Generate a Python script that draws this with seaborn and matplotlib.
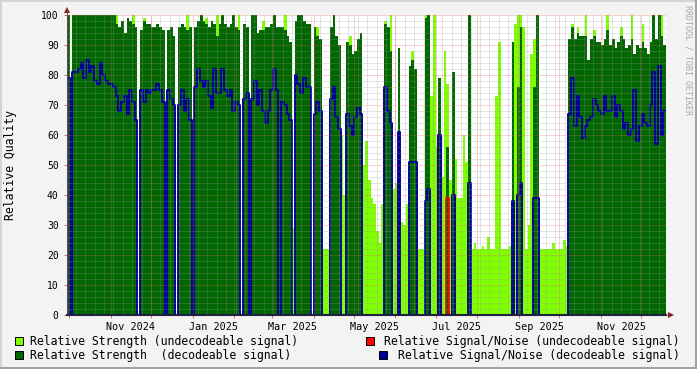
import datetime as dt
import numpy as np
import pandas as pd
import matplotlib
matplotlib.use("Agg")
import matplotlib.pyplot as plt
from matplotlib.lines import Line2D
from matplotlib.patches import Rectangle, Polygon
import seaborn as sns

# ---------------- data (one value per ~2-day bucket) -------------
strength_undecodeable = [
    100, 0, 100, 100, 100, 100, 100, 100, 100, 100,
    100, 100, 100, 100, 100, 100, 100, 100, 100, 96,
    98, 94, 99, 98, 100, 96, 0, 95, 99, 97,
    97, 96, 96, 97, 96, 95, 0, 95, 96, 93,
    0, 96, 97, 96, 100, 96, 23, 96, 98, 100,
    98, 99, 96, 98, 97, 100, 97, 100, 97, 96,
    97, 100, 96, 100, 0, 97, 96, 22, 100, 100,
    94, 95, 98, 96, 96, 97, 100, 96, 96, 96,
    100, 93, 91, 29, 98, 100, 100, 98, 97, 97,
    0, 96, 96, 92, 22, 22, 22, 96, 100, 93,
    90, 60, 40, 91, 93, 87, 88, 92, 94, 50,
    58, 45, 39, 37, 28, 24, 37, 98, 96, 100,
    42, 44, 89, 31, 30, 37, 83, 88, 82, 22,
    22, 22, 100, 100, 73, 100, 56, 79, 46, 88,
    77, 45, 81, 52, 39, 39, 60, 51, 100, 22,
    24, 22, 22, 23, 22, 26, 22, 22, 73, 91,
    22, 22, 22, 23, 91, 97, 100, 100, 96, 22,
    30, 87, 92, 100, 22, 22, 22, 22, 22, 24,
    22, 22, 22, 25, 23, 92, 97, 92, 96, 93,
    93, 100, 85, 92, 95, 91, 91, 90, 92, 100,
    90, 92, 89, 91, 96, 92, 89, 90, 100, 87,
    90, 89, 97, 89, 87, 91, 100, 92, 100, 100,
    90,
]
strength_decodeable = [
    100, 0, 100, 100, 100, 100, 100, 100, 100, 100,
    100, 100, 100, 100, 100, 100, 100, 100, 97, 96,
    98, 94, 99, 98, 97, 96, 0, 95, 98, 97,
    97, 96, 96, 97, 96, 95, 0, 95, 96, 93,
    0, 96, 97, 96, 95, 96, 0, 96, 98, 100,
    98, 97, 96, 98, 97, 93, 97, 100, 97, 96,
    97, 100, 96, 95, 0, 97, 96, 0, 100, 100,
    94, 95, 95, 96, 96, 97, 100, 96, 96, 96,
    95, 93, 91, 0, 98, 100, 100, 98, 97, 97,
    0, 96, 93, 92, 0, 0, 0, 96, 100, 93,
    90, 0, 0, 91, 90, 87, 88, 92, 94, 0,
    0, 0, 0, 0, 0, 0, 0, 97, 96, 88,
    0, 0, 89, 0, 0, 0, 83, 85, 82, 0,
    0, 0, 99, 100, 0, 0, 0, 79, 0, 0,
    56, 0, 81, 0, 0, 0, 0, 0, 100, 0,
    0, 0, 0, 0, 0, 0, 0, 0, 0, 0,
    0, 0, 0, 0, 91, 0, 76, 96, 0, 0,
    0, 0, 76, 100, 0, 0, 0, 0, 0, 0,
    0, 0, 0, 0, 0, 92, 96, 92, 94, 93,
    93, 93, 85, 92, 93, 91, 91, 90, 92, 95,
    90, 92, 89, 91, 93, 92, 89, 90, 92, 87,
    90, 89, 91, 89, 87, 91, 100, 92, 100, 93,
    90,
]
snr_decodeable = [
    79, 0, 81, 81, 82, 84, 79, 85, 81, 83,
    78, 77, 84, 80, 78, 77, 77, 76, 73, 68,
    71, 73, 67, 75, 71, 65, 0, 75, 71, 75,
    74, 75, 75, 77, 75, 71, 0, 75, 72, 70,
    0, 70, 75, 68, 72, 65, 0, 76, 82, 78,
    76, 78, 73, 69, 82, 74, 74, 82, 75, 73,
    75, 68, 71, 70, 0, 72, 74, 0, 72, 78,
    70, 75, 68, 64, 68, 75, 82, 75, 0, 71,
    70, 67, 65, 0, 80, 77, 74, 79, 76, 76,
    0, 67, 71, 68, 0, 0, 0, 72, 76, 66,
    62, 0, 0, 67, 63, 60, 66, 69, 67, 0,
    0, 0, 0, 0, 0, 0, 0, 76, 68, 64,
    0, 0, 61, 0, 0, 0, 51, 51, 51, 0,
    0, 0, 38, 42, 0, 0, 0, 60, 0, 0,
    0, 0, 40, 0, 0, 0, 0, 0, 44, 0,
    0, 0, 0, 0, 0, 0, 0, 0, 0, 0,
    0, 0, 0, 0, 38, 0, 40, 44, 0, 0,
    0, 0, 39, 39, 0, 0, 0, 0, 0, 0,
    0, 0, 0, 0, 0, 67, 79, 63, 73, 66,
    59, 63, 65, 66, 72, 70, 68, 67, 73, 68,
    68, 73, 66, 70, 68, 62, 64, 60, 62, 75,
    58, 63, 67, 64, 63, 70, 81, 57, 83, 60,
    68,
]
snr_undecodeable = [
    0, 0, 0, 0, 0, 0, 0, 0, 0, 0,
    0, 0, 0, 0, 0, 0, 0, 0, 0, 0,
    0, 0, 0, 0, 0, 0, 0, 0, 0, 0,
    0, 0, 0, 0, 0, 0, 0, 0, 0, 0,
    0, 0, 0, 0, 0, 0, 0, 0, 0, 0,
    0, 0, 0, 0, 0, 0, 0, 0, 0, 0,
    0, 0, 0, 0, 0, 0, 0, 0, 0, 0,
    0, 0, 0, 0, 0, 0, 0, 0, 0, 0,
    0, 0, 0, 0, 0, 0, 0, 0, 0, 0,
    0, 0, 0, 0, 0, 0, 0, 0, 0, 0,
    0, 0, 0, 0, 0, 0, 0, 0, 0, 0,
    0, 0, 0, 0, 0, 0, 0, 0, 0, 0,
    0, 0, 0, 0, 0, 0, 0, 0, 0, 0,
    0, 0, 0, 0, 0, 0, 0, 0, 0, 0,
    39, 0, 0, 0, 0, 0, 0, 0, 0, 0,
    0, 0, 0, 0, 0, 0, 0, 0, 0, 0,
    0, 0, 0, 0, 0, 0, 0, 0, 0, 0,
    0, 0, 0, 0, 0, 0, 0, 0, 0, 0,
    0, 0, 0, 0, 0, 0, 0, 0, 0, 0,
    0, 0, 0, 0, 0, 0, 0, 0, 0, 0,
    0, 0, 0, 0, 0, 0, 0, 0, 0, 0,
    0, 0, 0, 0, 0, 0, 0, 0, 0, 0,
    0,
]
x_tick_labels = ["Nov 2024", "Jan 2025", "Mar 2025", "May 2025",
                 "Jul 2025", "Sep 2025", "Nov 2025"]
x_tick_months = [(2024, 11), (2025, 1), (2025, 3), (2025, 5),
                 (2025, 7), (2025, 9), (2025, 11)]
y_ticks = [0, 10, 20, 30, 40, 50, 60, 70, 80, 90, 100]
legend_labels = ["Relative Strength (undecodeable signal)",
                 "Relative Strength  (decodeable signal)",
                 "Relative Signal/Noise (undecodeable signal)",
                 "Relative Signal/Noise (decodeable signal)"]

# ---------------- styling ----------------
C_LIGHT = "#80FF00"
C_DARK = "#006600"
C_RED = "#FF0000"
C_BLUE = "#000099"
C_ARROW = "#8E1B1B"
MONO = "DejaVu Sans Mono"

START = dt.datetime(2024, 9, 29, 12)
SPAN_DAYS = 445.9
n = len(strength_decodeable)
assert n == len(strength_undecodeable) == len(snr_decodeable) == len(snr_undecodeable)
step = SPAN_DAYS / n


def day(y, m, d=1):
    return (dt.datetime(y, m, d) - START).total_seconds() / 86400.0


W, H = 697, 369
fig = plt.figure(figsize=(W / 100, H / 100), dpi=100, facecolor="#F3F3F3")
ax = fig.add_axes([67 / W, 54 / H, 599 / W, 300 / H])
ax.set_facecolor("white")


def ext(v):
    a = np.asarray(v, dtype=float)
    return np.append(a, a[-1])


x_edges = np.arange(n + 1) * step
ax.fill_between(x_edges, 0, ext(strength_undecodeable), step="post",
                color=C_LIGHT, lw=0, antialiased=False, zorder=1)
ax.fill_between(x_edges, 0, ext(strength_decodeable), step="post",
                color=C_DARK, lw=0, antialiased=False, zorder=2)

df = pd.DataFrame({"x": x_edges,
                   "undec": ext(snr_undecodeable),
                   "dec": ext(snr_decodeable)})
n_before = len(ax.lines)
sns.lineplot(data=df, x="x", y="undec", ax=ax, color=C_RED, lw=1.3,
             drawstyle="steps-post", estimator=None, sort=False)
for ln in ax.lines[n_before:]:
    ln.set_zorder(3)
n_before = len(ax.lines)
sns.lineplot(data=df, x="x", y="dec", ax=ax, color=C_BLUE, lw=1.4,
             drawstyle="steps-post", estimator=None, sort=False)
for ln in ax.lines[n_before:]:
    ln.set_zorder(4)

# grid (drawn over the data, as rrdtool does)
gkw = dict(lw=0.72, linestyle=(0, (1, 1)), zorder=5)
for v in range(2, 100, 2):
    if v % 10:
        ax.axhline(v, color="#9A9A9A", alpha=0.5, **gkw)
for v in range(10, 101, 10):
    ax.axhline(v, color="#E06060", alpha=0.55, **gkw)
wk = day(2024, 9, 29)
while wk < SPAN_DAYS:
    if wk > 0:
        ax.axvline(wk, color="#9A9A9A", alpha=0.5, **gkw)
    wk += 7
month_pos = []
y, m = 2024, 10
while True:
    p = day(y, m)
    if p > SPAN_DAYS:
        break
    month_pos.append(p)
    m += 1
    if m == 13:
        y, m = y + 1, 1
for p in month_pos:
    ax.axvline(p, color="#E06060", alpha=0.55, **gkw)

ax.set_xlim(0, SPAN_DAYS)
ax.set_ylim(0, 100)
ax.set_xlabel("")
ax.set_ylabel("")

ax.set_yticks(y_ticks)
ax.set_yticklabels([str(v) for v in y_ticks], fontfamily=MONO, fontsize=7)
ax.tick_params(axis="y", length=2, width=0.7, color="#D07070", pad=4)

label_pos = []
for (yy, mm) in x_tick_months:
    a = day(yy, mm)
    b = day(yy + (mm == 12), mm % 12 + 1)
    label_pos.append((a + b) / 2)
ax.set_xticks(month_pos)
ax.set_xticklabels([""] * len(month_pos))
ax.tick_params(axis="x", which="major", length=2.5, width=0.7, color="#D07070")
ax.set_xticks(label_pos, minor=True)
ax.set_xticklabels(x_tick_labels, minor=True, fontfamily=MONO, fontsize=7.3)
ax.tick_params(axis="x", which="minor", length=0, pad=5)

for s in ("top", "right"):
    ax.spines[s].set_visible(False)
ax.spines["left"].set_color("#505050")
ax.spines["left"].set_linewidth(0.72)
ax.spines["bottom"].set_color("#202040")
ax.spines["bottom"].set_linewidth(1.5)
for s in ("left", "bottom"):
    ax.spines[s].set_zorder(6)


def px(x, y):
    return (x / W, 1 - y / H)


# arrows of the axes
fig.add_artist(Line2D([67 / W, 67 / W], [1 - 15 / H, 1 - 10 / H],
                      transform=fig.transFigure, color="#505050", lw=0.72))
fig.add_artist(Line2D([666 / W, 669 / W], [1 - 315 / H, 1 - 315 / H],
                      transform=fig.transFigure, color="#505050", lw=0.72))
fig.add_artist(Polygon([px(64, 13), px(70, 13), px(67, 7)], closed=True,
                       transform=fig.transFigure, color=C_ARROW, lw=0))
fig.add_artist(Polygon([px(668, 312), px(668, 318), px(674, 315)], closed=True,
                       transform=fig.transFigure, color=C_ARROW, lw=0))

# axis title and watermark
fig.text(*px(11, 165), "Relative Quality", rotation=90, ha="center", va="center",
         fontfamily=MONO, fontsize=8.3, color="black")
fig.text(*px(688, 5), "RRDTOOL / TOBI OETIKER", rotation=270, ha="center", va="top",
         fontfamily=MONO, fontsize=6, color="#A8A8A8")

# legend
legend_items = [
    (15, 341, C_LIGHT, legend_labels[0], 30, "left"),
    (15, 355, C_DARK, legend_labels[1], 30, "left"),
    (366, 341, C_RED, legend_labels[2], 680, "right"),
    (379, 355, C_BLUE, legend_labels[3], 680, "right"),
]
for sx, sy, col, lab, tx, ha in legend_items:
    x0, y0 = px(sx, sy + 4)
    fig.add_artist(Rectangle((x0, y0), 8 / W, 8 / H, transform=fig.transFigure,
                             facecolor=col, edgecolor="black", lw=0.7))
    fig.text(*px(tx, sy), lab, ha=ha, va="center", fontfamily=MONO,
             fontsize=8.3, color="black")

# 3-D style frame of the image
fig.add_artist(Line2D([0, 1], [1 - 0.5 / H, 1 - 0.5 / H], transform=fig.transFigure,
                      color="#D4D4D4", lw=1.4))
fig.add_artist(Line2D([0.5 / W, 0.5 / W], [0, 1], transform=fig.transFigure,
                      color="#D4D4D4", lw=1.4))
fig.add_artist(Line2D([0, 1], [1 / H, 1 / H], transform=fig.transFigure,
                      color="#A0A0A0", lw=1.4))
fig.add_artist(Line2D([1 - 1 / W, 1 - 1 / W], [0, 1], transform=fig.transFigure,
                      color="#A0A0A0", lw=1.4))

fig.savefig("out.png", dpi=100, facecolor=fig.get_facecolor())
